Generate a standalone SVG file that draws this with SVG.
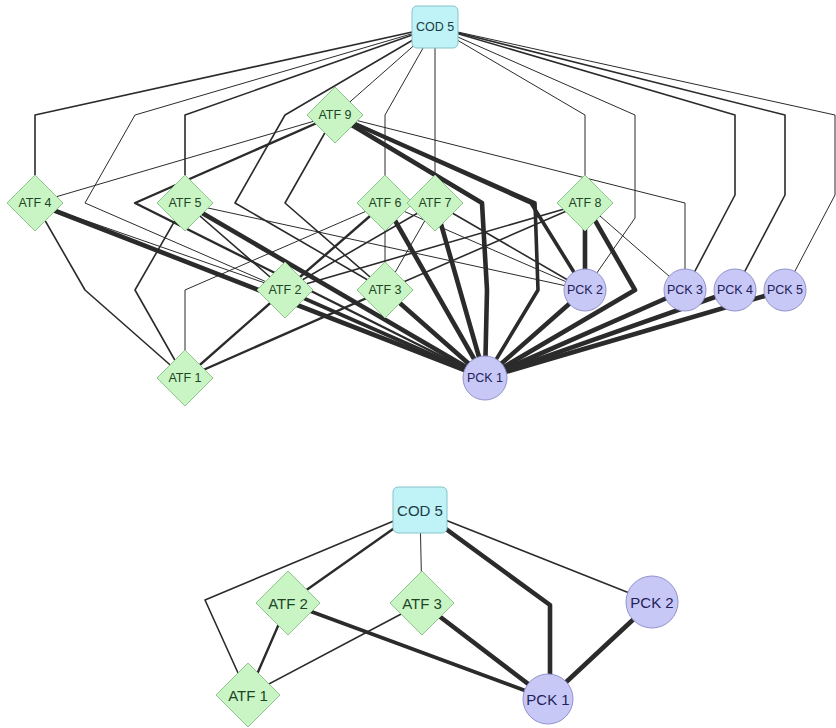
<svg xmlns="http://www.w3.org/2000/svg" width="836" height="728" viewBox="0 0 836 728">
<style>
.e{fill:none;stroke:#2b2b2b;stroke-linejoin:round;stroke-linecap:round}
.w1{stroke-width:1}
.w2{stroke-width:1.6}
.w3{stroke-width:2.4}
.w4{stroke-width:3.6}
.w5{stroke-width:4.6}
.atf{fill:#c9f5c4;stroke:#8fc48d;stroke-width:1}
.pck{fill:#c8c8f6;stroke:#9292cc;stroke-width:1}
.cod{fill:#bff3f8;stroke:#86c3c8;stroke-width:1}
.t{font-family:"Liberation Sans",Arial,sans-serif;font-size:12.5px;text-anchor:middle;dominant-baseline:central}
.tb{font-family:"Liberation Sans",Arial,sans-serif;font-size:15px;text-anchor:middle;dominant-baseline:central}
.ta{fill:#1d4526}
.tp{fill:#22225a}
.tc{fill:#1c3b44}
</style>
<rect width="836" height="728" fill="#ffffff"/>
<g id="connectors">
<!-- top graph: COD 5 edges -->
<polyline class="e w2" points="435,27 35,115 35,203"/>
<polyline class="e w1" points="435,27 135,115 85,203 285,290"/>
<polyline class="e w2" points="435,27 185,115 185,203"/>
<polyline class="e w2" points="435,27 285,115 235,203 385,290"/>
<polyline class="e w1" points="435,27 335,115"/>
<polyline class="e w1" points="435,27 385,115 385,203"/>
<polyline class="e w1" points="435,27 435,203"/>
<polyline class="e w1" points="435,27 585,115 585,203"/>
<polyline class="e w1" points="435,27 635,115 635,218 585,290"/>
<polyline class="e w2" points="435,27 735,115 735,195 685,290"/>
<polyline class="e w2" points="435,27 785,115 785,195 735,290"/>
<polyline class="e w1" points="435,27 835,115 835,195 785,290"/>
<!-- ATF 9 edges -->
<polyline class="e w1" points="335,115 35,203"/>
<polyline class="e w3" points="335,115 135,203 485,378"/>
<polyline class="e w2" points="335,115 285,203 385,290"/>
<polyline class="e w5" points="335,115 482,203 487,290 485,378"/>
<polyline class="e w4" points="335,115 535,203 538,290 485,378"/>
<polyline class="e w4" points="335,115 531,203 585,290"/>
<polyline class="e w1" points="335,115 685,203 685,290"/>
<!-- ATF 4 edges -->
<polyline class="e w5" points="35,203 485,378"/>
<polyline class="e w1" points="35,203 285,290"/>
<polyline class="e w2" points="35,203 85,290 185,378"/>
<!-- ATF 5 edges -->
<polyline class="e w5" points="185,203 485,378"/>
<polyline class="e w2" points="185,203 285,290"/>
<polyline class="e w2" points="185,203 135,290 185,378"/>
<polyline class="e w1" points="185,203 585,290"/>
<!-- ATF 6 edges -->
<polyline class="e w1" points="385,203 185,290 185,378"/>
<polyline class="e w3" points="385,203 285,290"/>
<polyline class="e w1" points="385,203 385,290"/>
<polyline class="e w5" points="385,203 485,378"/>
<polyline class="e w1" points="385,203 585,290"/>
<!-- ATF 7 edges -->
<polyline class="e w2" points="435,203 285,290"/>
<polyline class="e w1" points="435,203 385,290"/>
<polyline class="e w5" points="435,203 485,378"/>
<polyline class="e w2" points="435,203 585,290"/>
<!-- ATF 8 edges -->
<polyline class="e w2" points="585,203 285,290"/>
<polyline class="e w2" points="585,203 385,290"/>
<polyline class="e w1" points="585,203 685,290"/>
<polyline class="e w5" points="585,203 585,290"/>
<polyline class="e w5" points="585,203 635,290 485,378"/>
<!-- lower layer edges -->
<polyline class="e w3" points="285,290 185,378"/>
<polyline class="e w3" points="385,290 185,378"/>
<polyline class="e w4" points="285,290 485,378"/>
<polyline class="e w5" points="385,290 485,378"/>
<polyline class="e w5" points="585,290 485,378"/>
<polyline class="e w5" points="685,290 485,378"/>
<polyline class="e w5" points="735,290 485,378"/>
<polyline class="e w5" points="785,290 485,378"/>
<!-- bottom graph -->
<polyline class="e w2" points="420,510 205,600 248,695"/>
<polyline class="e w3" points="420,510 288,603"/>
<polyline class="e w1" points="420,510 422,603"/>
<polyline class="e w5" points="420,510 550,605 550,699"/>
<polyline class="e w2" points="420,510 652,602"/>
<polyline class="e w3" points="288,603 248,695"/>
<polyline class="e w2" points="422,603 248,695"/>
<polyline class="e w4" points="288,603 548,699"/>
<polyline class="e w5" points="422,603 548,699"/>
<polyline class="e w5" points="652,602 548,699"/>
</g>
<!-- top graph nodes -->
<g id="cod5-top"><rect class="cod" x="412" y="6" width="46" height="42" rx="5"/><text class="t tc" x="435" y="27">COD 5</text></g>
<g id="atf9-top"><polygon class="atf" points="335,87 363,115 335,143 307,115"/><text class="t ta" x="335" y="115">ATF 9</text></g>
<g id="atf4-top"><polygon class="atf" points="35,175 63,203 35,231 7,203"/><text class="t ta" x="35" y="203">ATF 4</text></g>
<g id="atf5-top"><polygon class="atf" points="185,175 213,203 185,231 157,203"/><text class="t ta" x="185" y="203">ATF 5</text></g>
<g id="atf6-top"><polygon class="atf" points="385,175 413,203 385,231 357,203"/><text class="t ta" x="385" y="203">ATF 6</text></g>
<g id="atf7-top"><polygon class="atf" points="435,175 463,203 435,231 407,203"/><text class="t ta" x="435" y="203">ATF 7</text></g>
<g id="atf8-top"><polygon class="atf" points="585,175 613,203 585,231 557,203"/><text class="t ta" x="585" y="203">ATF 8</text></g>
<g id="atf2-top"><polygon class="atf" points="285,262 313,290 285,318 257,290"/><text class="t ta" x="285" y="290">ATF 2</text></g>
<g id="atf3-top"><polygon class="atf" points="385,262 413,290 385,318 357,290"/><text class="t ta" x="385" y="290">ATF 3</text></g>
<g id="pck2-top"><circle class="pck" cx="585" cy="290" r="21"/><text class="t tp" x="585" y="290">PCK 2</text></g>
<g id="pck3-top"><circle class="pck" cx="685" cy="290" r="21"/><text class="t tp" x="685" y="290">PCK 3</text></g>
<g id="pck4-top"><circle class="pck" cx="735" cy="290" r="21"/><text class="t tp" x="735" y="290">PCK 4</text></g>
<g id="pck5-top"><circle class="pck" cx="785" cy="290" r="21"/><text class="t tp" x="785" y="290">PCK 5</text></g>
<g id="atf1-top"><polygon class="atf" points="185,350 213,378 185,406 157,378"/><text class="t ta" x="185" y="378">ATF 1</text></g>
<g id="pck1-top"><circle class="pck" cx="485" cy="378" r="22"/><text class="t tp" x="485" y="378">PCK 1</text></g>
<!-- bottom graph nodes -->
<g id="cod5-bottom"><rect class="cod" x="393" y="487" width="54" height="46" rx="5"/><text class="tb tc" x="420" y="510">COD 5</text></g>
<g id="atf2-bottom"><polygon class="atf" points="288,571 320,603 288,635 256,603"/><text class="tb ta" x="288" y="603">ATF 2</text></g>
<g id="atf3-bottom"><polygon class="atf" points="422,571 454,603 422,635 390,603"/><text class="tb ta" x="422" y="603">ATF 3</text></g>
<g id="pck2-bottom"><circle class="pck" cx="652" cy="602" r="26"/><text class="tb tp" x="652" y="602">PCK 2</text></g>
<g id="atf1-bottom"><polygon class="atf" points="248,663 280,695 248,727 216,695"/><text class="tb ta" x="248" y="695">ATF 1</text></g>
<g id="pck1-bottom"><circle class="pck" cx="548" cy="699" r="25"/><text class="tb tp" x="548" y="699">PCK 1</text></g>
</svg>
